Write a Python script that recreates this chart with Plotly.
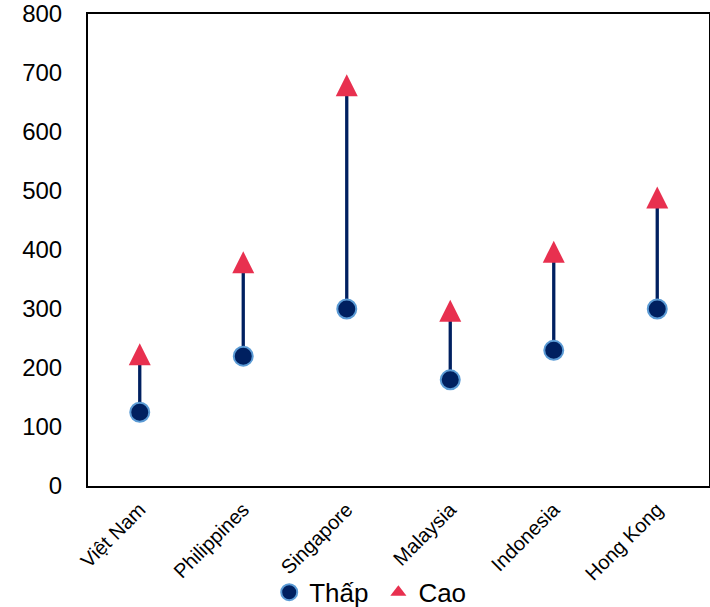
import plotly.graph_objects as go

countries = ["Việt Nam", "Philippines", "Singapore", "Malaysia", "Indonesia", "Hong Kong"]
low_vals = [125, 220, 300, 180, 230, 300]
high_vals = [224, 380, 680, 298, 398, 490]
y_ticks = [0, 100, 200, 300, 400, 500, 600, 700, 800]

line_x, line_y = [], []
for c, lo, hi in zip(countries, low_vals, high_vals):
    line_x += [c, c, None]
    line_y += [lo, hi, None]

RED = "#E8304F"
NAVY = "#002060"

fig = go.Figure()
fig.add_trace(go.Scatter(x=line_x, y=line_y, mode="lines",
                         line=dict(color=NAVY, width=3.3),
                         showlegend=False, hoverinfo="skip"))
fig.add_trace(go.Scatter(x=countries, y=high_vals, mode="markers", name="Cao",
                         showlegend=False, legendgroup="cao",
                         marker=dict(symbol="arrow-down", angle=180, standoff=10.5,
                                     size=22, color=RED, line=dict(width=0))))
fig.add_trace(go.Scatter(x=[None], y=[None], mode="markers", name="Cao",
                         legendgroup="cao", legend="legend2",
                         marker=dict(symbol="triangle-up", size=14, color=RED,
                                     line=dict(width=0))))
fig.add_trace(go.Scatter(x=countries, y=low_vals, mode="markers", name="Thấp",
                         legend="legend",
                         marker=dict(symbol="circle", size=19, color=NAVY,
                                     line=dict(width=2, color="#5B9BD5"))))

leg_common = dict(orientation="h", xanchor="left", y=-0.2252, yanchor="middle",
                  font=dict(size=26), itemwidth=30, bgcolor="rgba(0,0,0,0)")
fig.update_layout(
    width=710, height=607,
    margin=dict(l=88, r=1, t=14, b=121, autoexpand=False),
    plot_bgcolor="white", paper_bgcolor="white",
    font=dict(family="Liberation Sans, Arial, sans-serif", color="black"),
    showlegend=True,
    legend=dict(x=0.2918, **leg_common),
    legend2=dict(x=0.4676, **leg_common),
)
fig.update_xaxes(type="category", categoryorder="array", categoryarray=countries,
                 range=[-0.5, len(countries) - 0.5],
                 tickangle=-45, tickfont=dict(size=20), automargin=False,
                 showline=True, linecolor="black", linewidth=2, mirror=True,
                 showgrid=False, ticks="", ticklabelstandoff=2)
fig.update_yaxes(range=[0, 800], tickvals=y_ticks, tickfont=dict(size=24), automargin=False,
                 showline=True, linecolor="black", linewidth=2, mirror=True,
                 showgrid=False, zeroline=False, ticks="", ticklabelstandoff=19)

fig.write_html("out.html", config={"displayModeBar": False},
               post_script="document.body.style.margin='0';")
